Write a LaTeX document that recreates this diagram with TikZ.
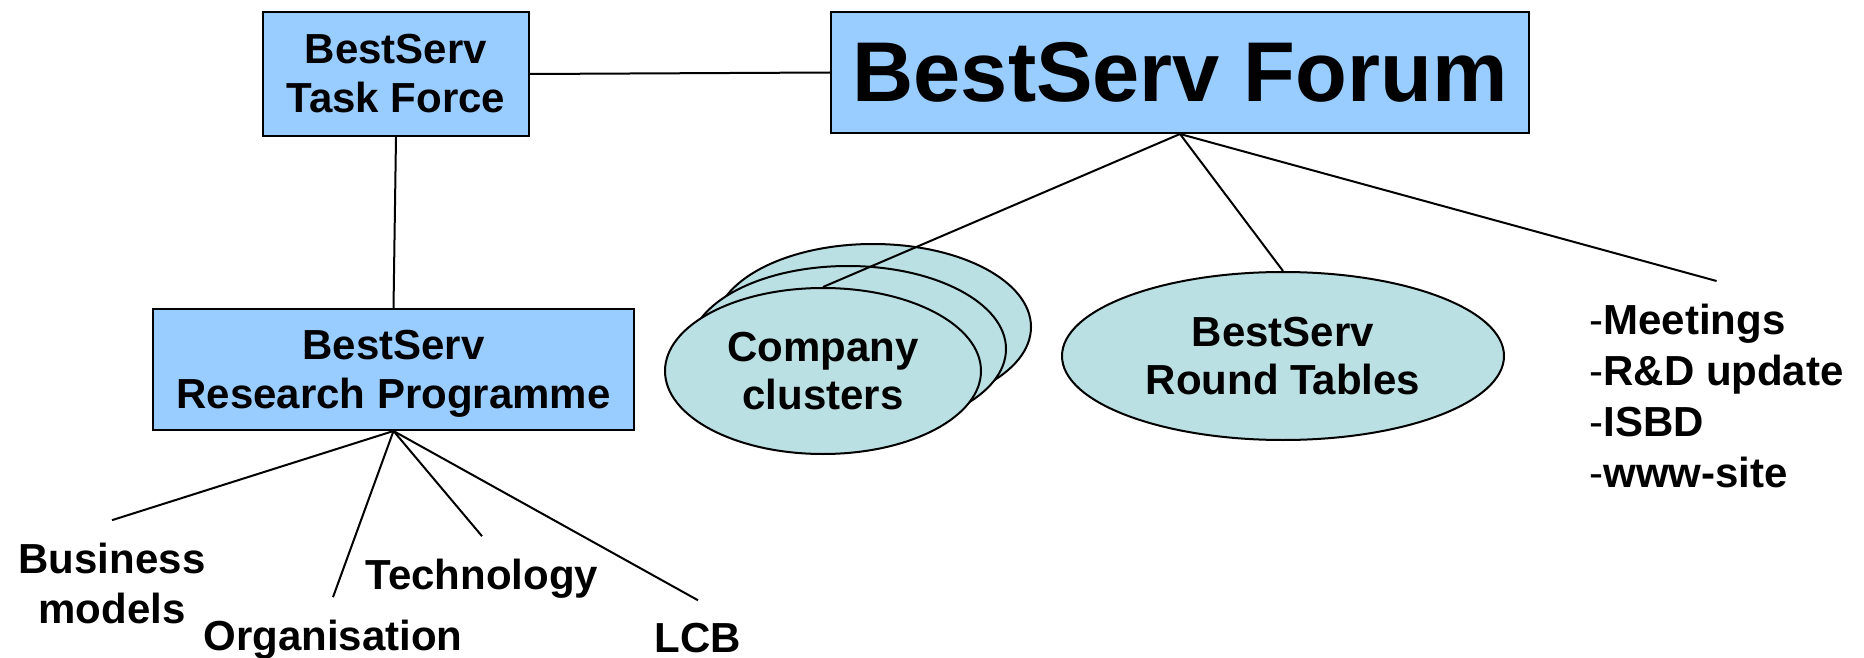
\documentclass[tikz,border=0pt]{standalone}
\usepackage{fontspec}
\setmainfont{Liberation Sans}
\usetikzlibrary{shapes.geometric}
\definecolor{boxblue}{RGB}{153,204,255}
\definecolor{blobcyan}{RGB}{187,224,227}

\begin{document}
\begin{tikzpicture}[
        x=0.5pt, y=-0.5pt,
        box/.style={rectangle, draw, line width=1pt, fill=boxblue, align=center, font=\fontsize{21}{24.5}\selectfont\bfseries},
        blob/.style={ellipse, draw, line width=1pt, fill=blobcyan, inner sep=0pt, align=center, font=\fontsize{21}{24}\selectfont\bfseries},
        lbl/.style={inner sep=0pt, align=center, font=\fontsize{21}{25}\selectfont\bfseries},
        link/.style={line width=1pt}
    ]
    \useasboundingbox (0,0) rectangle (1864,658);

    % Boxes
    \node[box, minimum width=133pt, minimum height=62pt] (taskforce) at (396,74) {BestServ\\Task Force};
    \node[box, minimum width=349pt, minimum height=60.5pt, font=\fontsize{42.4}{50}\selectfont\bfseries] (forum) at (1180,72.5) {BestServ Forum};
    \node[box, minimum width=240.5pt, minimum height=60.5pt, text depth=0pt] (research) at (393.5,369.5) {BestServ\\Research Programme};

    % Ellipses
    \node[blob, minimum width=158pt, minimum height=83pt] (clusterC) at (873,327) {};
    \node[blob, minimum width=158pt, minimum height=83pt] (clusterB) at (848,349) {};
    \node[blob, minimum width=158pt, minimum height=83pt] (clusterA) at (823,371) {Company\\clusters};
    \node[blob, minimum width=221pt, minimum height=84pt] (roundtables) at (1283,356) {BestServ\\Round Tables};

    % Labels
    \node[lbl, anchor=base] (business) at (112,623) {Business\\models};
    \node[lbl, anchor=base] (organisation) at (333,650) {Organisation};
    \node[lbl, anchor=base] (technology) at (482,589) {Technology};
    \node[lbl, anchor=base] (lcb) at (698,652) {LCB};
    \node[lbl, anchor=north west, align=left, font=\fontsize{21}{25.5}\selectfont\bfseries] (activities) at (1589,304)
        {{\mdseries -}Meetings\\{\mdseries -}R\&D update\\{\mdseries -}ISBD\\{\mdseries -}www-site};

    % Lines
    \draw[link] (taskforce.east) -- (forum.west);
    \draw[link] (taskforce.south) -- (research.north);
    \draw[link] (forum.south) -- (clusterA.north);
    \draw[link] (forum.south) -- (roundtables.north);
    \draw[link] (forum.south) -- ([yshift=11.5pt]activities.north);
    \draw[link] (research.south) -- ([yshift=11pt]business.north);
    \draw[link] (research.south) -- ([yshift=11pt]organisation.north);
    \draw[link] (research.south) -- ([yshift=11pt]technology.north);
    \draw[link] (research.south) -- ([yshift=11pt]lcb.north);

    \end{tikzpicture}
\end{document}
